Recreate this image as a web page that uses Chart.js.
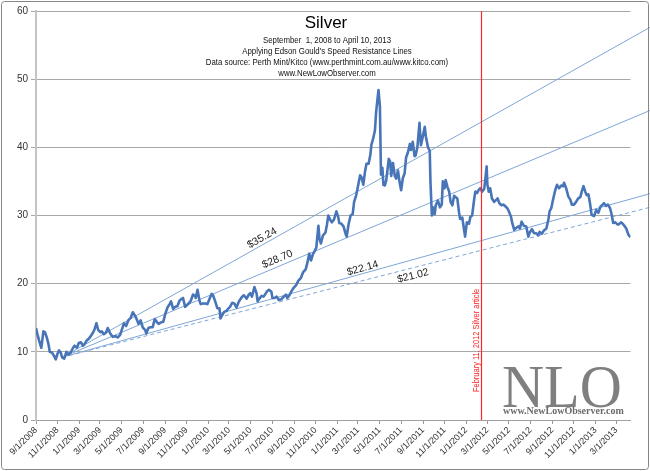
<!DOCTYPE html>
<html>
<head>
<meta charset="utf-8">
<title>Silver</title>
<script src="https://cdn.jsdelivr.net/npm/chart.js@4"></script>
<style>
  html, body { margin: 0; padding: 0; background: #fff; }
</style>
</head>
<body>
<canvas id="silverChart" width="650" height="471"></canvas>
<script>
// Silver price (Perth Mint / Kitco), roughly weekly
var dates2008 = ['9/1','9/5','9/10','9/16','9/22','9/26',
  '10/1','10/6','10/10','10/16','10/22','10/27','10/31',
  '11/5','11/10','11/14','11/20','11/26',
  '12/2','12/8','12/15','12/19','12/26','12/31'];
var prices2008 = [13.5,12.6,11.6,10.6,13.0,12.9,
  12.2,11.2,10.0,9.9,9.4,8.9,9.6,
  10.2,9.9,9.2,9.0,10.0,
  9.6,9.9,10.6,10.9,10.6,11.3];

var dates2009 = ['1/6','1/12','1/16','1/23','1/28',
  '2/3','2/9','2/13','2/19','2/24',
  '3/2','3/6','3/12','3/18','3/23','3/30',
  '4/6','4/14','4/20','4/27',
  '5/4','5/8','5/14','5/20','5/27',
  '6/2','6/8','6/12','6/18','6/24','6/30',
  '7/7','7/10','7/16','7/22','7/28',
  '8/3','8/10','8/14','8/20','8/27',
  '9/2','9/8','9/14','9/18','9/24','9/30',
  '10/6','10/12','10/16','10/22','10/28',
  '11/3','11/9','11/13','11/19','11/25','11/27',
  '12/2','12/8','12/11','12/17','12/23','12/30'];
var prices2009 = [11.4,10.9,11.1,11.7,11.9,
  12.3,12.8,13.2,14.2,13.2,
  12.9,13.0,12.6,12.8,13.5,12.7,
  12.2,12.3,12.1,12.5,
  13.6,14.2,13.8,14.6,15.0,
  15.8,15.3,14.9,14.1,14.6,13.6,
  13.2,12.7,13.5,13.6,13.6,
  14.8,14.3,14.1,14.3,14.4,
  15.6,16.5,17.0,17.4,16.3,16.6,
  16.7,17.5,17.7,17.9,16.6,
  16.9,17.2,17.5,18.4,18.2,17.9,
  19.1,17.4,17.0,17.1,17.1,17.0];

var dates2010 = ['1/5','1/11','1/15','1/21','1/27',
  '2/2','2/5','2/10','2/16','2/22','2/26',
  '3/4','3/10','3/16','3/22','3/29',
  '4/6','4/12','4/20','4/26','4/30',
  '5/5','5/12','5/18','5/21','5/26',
  '6/1','6/7','6/11','6/17','6/22','6/29',
  '7/2','7/8','7/14','7/20','7/27',
  '8/3','8/9','8/13','8/19','8/25','8/31',
  '9/7','9/13','9/20','9/27',
  '10/4','10/8','10/14','10/19','10/25','10/29',
  '11/3','11/9','11/12','11/16','11/22','11/29',
  '12/3','12/7','12/13','12/17','12/23','12/30'];
var prices2010 = [17.8,18.5,18.3,17.4,16.4,
  16.4,14.9,15.4,15.9,16.0,16.3,
  16.6,17.2,17.1,16.5,17.4,
  18.0,18.3,17.8,18.4,18.6,
  18.1,19.5,18.6,17.4,17.8,
  18.2,18.1,18.4,18.9,19.1,18.8,
  17.9,17.9,18.1,17.6,17.7,
  18.1,18.4,17.9,18.3,18.9,19.4,
  19.8,20.4,20.8,21.7,
  22.1,22.9,24.4,23.4,24.4,24.7,
  25.3,28.5,26.6,25.9,27.1,27.5,
  28.6,30.0,29.3,29.0,29.4,30.6];

var dates2011 = ['1/4','1/7','1/13','1/19','1/25','1/28',
  '2/2','2/8','2/14','2/18','2/24',
  '3/1','3/7','3/11','3/16','3/21','3/25','3/31',
  '4/5','4/8','4/13','4/18','4/21','4/25','4/28',
  '5/2','5/5','5/9','5/12','5/16','5/20','5/24','5/27','5/31',
  '6/3','6/8','6/13','6/17','6/22','6/27',
  '7/1','7/6','7/11','7/15','7/20','7/26','7/29',
  '8/3','8/8','8/11','8/16','8/22','8/26','8/31',
  '9/6','9/9','9/15','9/20','9/22','9/26','9/29',
  '10/4','10/7','10/13','10/19','10/24','10/27',
  '11/1','11/4','11/9','11/14','11/18','11/23','11/28',
  '12/2','12/7','12/12','12/15','12/21','12/29'];
var prices2011 = [29.8,28.9,28.8,28.4,27.3,26.9,
  28.6,30.0,30.2,32.0,33.0,
  34.3,35.9,35.6,34.5,36.5,37.6,37.6,
  38.9,40.4,41.3,42.5,45.0,47.0,48.4,
  46.0,36.0,37.0,34.5,34.4,35.2,36.9,38.3,37.9,
  35.8,37.7,35.8,35.4,36.6,34.8,
  33.7,35.5,36.2,38.5,39.2,40.5,39.6,
  40.8,38.7,38.8,40.0,43.6,40.3,41.5,
  43.0,41.6,40.0,39.5,35.0,30.0,31.2,
  30.2,31.5,32.2,31.2,31.6,35.0,
  34.0,35.2,34.2,33.5,32.0,31.5,32.9,
  32.7,32.5,30.4,29.5,29.7,26.9];

var dates2012 = ['1/3','1/9','1/13','1/18','1/24','1/27',
  '2/1','2/6','2/10','2/15','2/21','2/24','2/28',
  '3/1','3/5','3/9','3/14','3/20','3/26','3/30',
  '4/4','4/10','4/16','4/20','4/26',
  '5/1','5/7','5/10','5/16','5/22','5/28',
  '6/1','6/6','6/12','6/19','6/25','6/29',
  '7/5','7/11','7/17','7/23','7/27',
  '8/2','8/8','8/15','8/21','8/24','8/29',
  '9/4','9/10','9/14','9/20','9/26',
  '10/1','10/4','10/10','10/16','10/22','10/26',
  '11/1','11/7','11/13','11/19','11/23','11/28',
  '12/3','12/7','12/12','12/17','12/21','12/28'];
var prices2012 = [29.0,28.8,29.8,30.0,32.5,33.5,
  33.3,33.8,34.0,33.5,33.9,35.2,37.2,
  34.6,33.5,34.0,32.5,32.0,32.3,32.5,
  31.8,31.5,31.6,31.4,31.1,
  30.6,29.8,29.0,27.9,28.2,28.4,
  28.1,29.1,28.5,28.4,26.9,27.5,
  28.0,27.4,27.4,27.1,27.6,
  27.3,27.8,28.1,29.5,30.6,31.1,
  32.6,33.9,34.5,34.0,34.4,
  34.3,34.8,34.0,32.8,32.3,31.6,
  31.6,32.0,32.5,32.7,33.5,34.3,
  33.5,33.0,33.1,31.6,30.1,29.9];

var dates2013 = ['1/3','1/9','1/15','1/21','1/25','1/31',
  '2/5','2/11','2/15','2/20','2/26',
  '3/4','3/8','3/14','3/19','3/25','3/29',
  '4/4','4/10'];
var prices2013 = [30.8,30.4,31.3,31.6,31.8,31.4,
  31.6,31.1,30.3,28.9,29.0,
  28.7,28.7,29.0,28.8,28.4,28.1,
  27.2,26.8];

// Gould speed resistance lines: common start, value at the far right edge
var trendLabels = ['$35.24', '$28.70', '$22.14', '$21.02'];
var trendStartDate = '11/14/2008';
var trendStartValue = 9.2;
var trendEndDate = '6/4/2013';
var trendEndValues = [57.6, 45.4, 33.2, 31.2];

var markerDate = '2/11/2012';
var markerText = 'February 11, 2012 Silver article';

var axisStart = '9/1/2008';
var axisEnd = '4/10/2013';
var tickLabels = ['9/1/2008','11/1/2008','1/1/2009','3/1/2009','5/1/2009','7/1/2009',
  '9/1/2009','11/1/2009','1/1/2010','3/1/2010','5/1/2010','7/1/2010','9/1/2010',
  '11/1/2010','1/1/2011','3/1/2011','5/1/2011','7/1/2011','9/1/2011','11/1/2011',
  '1/1/2012','3/1/2012','5/1/2012','7/1/2012','9/1/2012','11/1/2012','1/1/2013','3/1/2013'];

var titleLines = ['September  1, 2008 to April 10, 2013',
  "Applying Edson Gould's Speed Resistance Lines",
  'Data source: Perth Mint/Kitco (www.perthmint.com.au/www.kitco.com)',
  'www.NewLowObserver.com'];

// days since the first date on the axis
function dayOf(s) {
  var p = s.split('/');
  var t = Date.UTC(+p[2], +p[0] - 1, +p[1]);
  var q = axisStart.split('/');
  return Math.round((t - Date.UTC(+q[2], +q[0] - 1, +q[1])) / 86400000);
}

var years = [2008, 2009, 2010, 2011, 2012, 2013];
var dateLists = [dates2008, dates2009, dates2010, dates2011, dates2012, dates2013];
var priceLists = [prices2008, prices2009, prices2010, prices2011, prices2012, prices2013];
var pricePoints = [];
years.forEach(function (yr, k) {
  dateLists[k].forEach(function (d, j) {
    pricePoints.push({ x: dayOf(d + '/' + yr), y: priceLists[k][j] });
  });
});

var tickDays = tickLabels.map(dayOf);

var datasets = [{
  label: 'Silver',
  data: pricePoints,
  borderColor: '#4775b8',
  borderWidth: 2.6,
  pointRadius: 0,
  tension: 0,
  borderJoinStyle: 'round'
}];
trendEndValues.forEach(function (v, i) {
  datasets.push({
    label: trendLabels[i],
    data: [{ x: dayOf(trendStartDate), y: trendStartValue }, { x: dayOf(trendEndDate), y: v }],
    borderColor: '#7ea6d8',
    borderWidth: 1,
    borderDash: i === 3 ? [4, 3] : [],
    pointRadius: 0,
    clip: false
  });
});

function drawText(ctx, txt, x, y, font, color, sx, align) {
  ctx.save();
  ctx.translate(x, y);
  ctx.scale(sx, 1);
  ctx.font = font;
  ctx.fillStyle = color;
  ctx.textAlign = align;
  ctx.textBaseline = 'alphabetic';
  ctx.fillText(txt, 0, 0);
  ctx.restore();
}

var decorations = {
  id: 'decorations',
  afterDatasetsDraw: function (chart) {
    var ctx = chart.ctx, a = chart.chartArea, xs = chart.scales.x;
    // red marker line and its label
    var mx = Math.round(xs.getPixelForValue(dayOf(markerDate))) + 0.5;
    ctx.save();
    ctx.setLineDash([]);
    ctx.globalAlpha = 1;
    ctx.strokeStyle = 'rgb(255, 40, 40)';
    ctx.lineWidth = 1.2;
    ctx.beginPath();
    ctx.moveTo(mx, a.top);
    ctx.lineTo(mx, a.bottom);
    ctx.stroke();
    ctx.translate(mx - 3, a.bottom - 28);
    ctx.rotate(-Math.PI / 2);
    ctx.scale(0.83, 1);
    ctx.font = '9px "Liberation Sans"';
    ctx.fillStyle = '#ff2020';
    ctx.textAlign = 'left';
    ctx.fillText(markerText, 0, 0);
    ctx.restore();
  },
  afterDraw: function (chart) {
    var ctx = chart.ctx, xs = chart.scales.x, ys = chart.scales.y;
    // labels along the speed resistance lines
    var anchors = ['6/11/2010', '7/24/2010', '3/18/2011', '7/29/2011'];
    var offsets = [-6, -7, -5, 8];
    var x0 = xs.getPixelForValue(dayOf(trendStartDate));
    var y0 = ys.getPixelForValue(trendStartValue);
    var x1 = xs.getPixelForValue(dayOf(trendEndDate));
    trendLabels.forEach(function (lab, i) {
      var y1 = ys.getPixelForValue(trendEndValues[i]);
      var ang = Math.atan2(y1 - y0, x1 - x0);
      var px = xs.getPixelForValue(dayOf(anchors[i]));
      var py = y0 + (px - x0) * (y1 - y0) / (x1 - x0);
      ctx.save();
      ctx.translate(px, py);
      ctx.rotate(ang);
      ctx.font = '10.5px "Liberation Sans"';
      ctx.fillStyle = '#1a1a1a';
      ctx.textAlign = 'center';
      ctx.textBaseline = 'middle';
      ctx.fillText(lab, 0, offsets[i]);
      ctx.restore();
    });

    // title block
    drawText(ctx, 'Silver', 326, 28, '17px "Liberation Sans"', '#000', 1, 'center');
    titleLines.forEach(function (t, i) {
      drawText(ctx, t, 327, 43 + i * 11, '9px "Liberation Sans"', '#111', 0.87, 'center');
    });

    // NLO watermark
    drawText(ctx, 'NLO', 502, 407, '62px "Liberation Serif"', '#7f7f7f', 0.94, 'left');
    drawText(ctx, 'www.NewLowObserver.com', 503, 414, 'bold 10px "Liberation Serif"', '#6b6b6b', 1, 'left');

    // chart border
    ctx.save();
    ctx.strokeStyle = '#868686';
    ctx.lineWidth = 1;
    ctx.beginPath();
    ctx.roundRect(1.5, 1.5, 647, 468, 3);
    ctx.stroke();
    ctx.restore();
  }
};

var ctx = document.getElementById('silverChart').getContext('2d');
var silverChart = new Chart(ctx, {
  type: 'line',
  data: { datasets: datasets },
  options: {
    responsive: false,
    animation: false,
    events: [],
    layout: { padding: { top: 11, right: 19.5, left: 0, bottom: 0 } },
    plugins: { legend: { display: false }, tooltip: { enabled: false } },
    scales: {
      x: {
        type: 'linear',
        min: 0,
        max: dayOf(axisEnd),
        afterBuildTicks: function (s) {
          s.ticks = tickDays.map(function (d) { return { value: d }; });
        },
        afterFit: function (s) {
          s.height = 51;
          s.paddingLeft = 0;
          s.paddingRight = 0;
        },
        ticks: {
          autoSkip: false,
          minRotation: 45,
          maxRotation: 45,
          padding: 1,
          color: '#333',
          font: { family: 'Liberation Sans', size: 9 },
          callback: function (v) {
            var i = tickDays.indexOf(v);
            return i >= 0 ? tickLabels[i] : '';
          }
        },
        grid: { drawOnChartArea: false, drawTicks: true, tickLength: 4, color: '#9a9a9a' },
        border: { color: '#a0a0a0', width: 1 }
      },
      y: {
        min: 0,
        max: 60,
        afterFit: function (s) {
          s.width = 36;
          s.paddingTop = 0;
          s.paddingBottom = 0;
        },
        ticks: {
          stepSize: 10,
          padding: 3,
          color: '#333',
          font: { family: 'Liberation Sans', size: 10 }
        },
        grid: { color: '#a8a8a8', lineWidth: 1, tickLength: 5 },
        border: { color: '#c4c4c4', width: 2 }
      }
    }
  },
  plugins: [decorations]
});
</script>
</body>
</html>
